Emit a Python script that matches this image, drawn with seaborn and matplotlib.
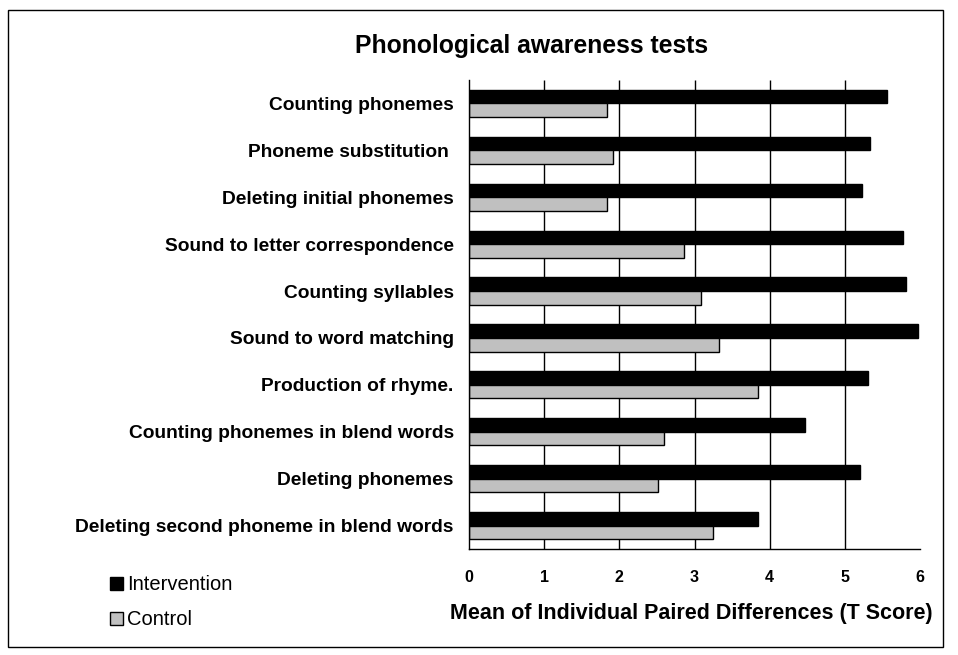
import matplotlib
matplotlib.use("Agg")
import matplotlib.pyplot as plt
import seaborn as sns
import pandas as pd
from matplotlib.patches import Patch, Rectangle

TESTS = [
    'Counting phonemes',
    'Phoneme substitution ',
    'Deleting initial phonemes',
    'Sound to letter correspondence',
    'Counting syllables',
    'Sound to word matching',
    'Production of rhyme.',
    'Counting phonemes in blend words',
    'Deleting phonemes',
    'Deleting second phoneme in blend words',
]
INTERVENTION = [5.56, 5.34, 5.23, 5.78, 5.82, 5.98, 5.31, 4.47, 5.20, 3.85]
CONTROL = [1.83, 1.92, 1.83, 2.86, 3.08, 3.32, 3.84, 2.60, 2.51, 3.24]
GROUPS = ['Intervention', 'Control']
XTICKS = [0, 1, 2, 3, 4, 5, 6]

df = pd.DataFrame({
    'test': TESTS * 2,
    'value': INTERVENTION + CONTROL,
    'group': [GROUPS[0]] * len(TESTS) + [GROUPS[1]] * len(TESTS),
})

sns.set_style("white")
plt.rcParams['font.family'] = ['Liberation Sans', 'DejaVu Sans']
plt.rcParams['text.color'] = 'black'
plt.rcParams['axes.labelcolor'] = 'black'
plt.rcParams['xtick.color'] = 'black'
plt.rcParams['ytick.color'] = 'black'

fig = plt.figure(figsize=(9.58, 6.55), dpi=100)
ax = fig.add_axes([0.4896, 0.1618, 0.4707, 0.7161])

colors = ['black', '#c0c0c0']
sns.barplot(data=df, y='test', x='value', hue='group', palette=colors,
            orient='h', width=0.58, edgecolor='black', linewidth=1,
            legend=False, ax=ax)

ax.set_xlim(0, 6)
ax.set_ylim(len(TESTS) - 0.5, -0.5)
ax.set_xticks(XTICKS)
ax.set_xticklabels([str(t) for t in XTICKS], fontsize=11.5, fontweight='bold')
ax.tick_params(axis='x', direction='out', length=5, width=1, pad=10)
# vertical gridlines at inner ticks only
ax.vlines(XTICKS[1:-1], -0.5, len(TESTS) - 0.5, colors='black', linewidth=1, zorder=0)

ax.set_yticks(range(len(TESTS)))
ax.set_yticklabels(TESTS, fontsize=13.8, fontweight='bold')
ax.tick_params(axis='y', which='major', length=0, pad=11)
ax.set_yticks([k - 0.5 for k in range(len(TESTS) + 1)], minor=True)
ax.tick_params(axis='y', which='minor', direction='out', length=7, width=1)

ax.set_ylabel('')
ax.set_xlabel('Mean of Individual Paired Differences (T Score)', fontsize=15.5,
              fontweight='bold')
ax.xaxis.set_label_coords(0.492, -0.115)

for side in ['top', 'right']:
    ax.spines[side].set_visible(False)
for side in ['left', 'bottom']:
    ax.spines[side].set_color('black')
    ax.spines[side].set_linewidth(1)

fig.text(0.555, 0.93, 'Phonological awareness tests', ha='center', va='center',
         fontsize=17.8, fontweight='bold')

handles = [Patch(facecolor=c, edgecolor='black', linewidth=1) for c in colors]
fig.legend(handles, GROUPS, loc='upper left', bbox_to_anchor=(0.104, 0.137),
           frameon=False, handlelength=0.65, handleheight=0.65, handletextpad=0.2,
           labelspacing=0.8, borderpad=0, prop={'size': 14.5})

fig.patches.append(Rectangle((0.0084, 0.0122), 0.976, 0.9725, transform=fig.transFigure,
                             fill=False, edgecolor='black', linewidth=1))

fig.savefig('out.png', dpi=100)
